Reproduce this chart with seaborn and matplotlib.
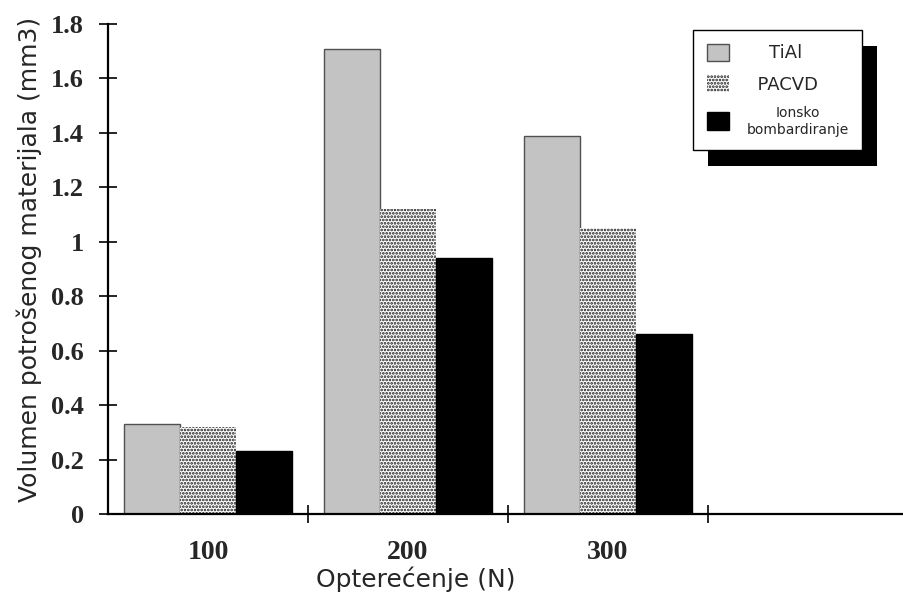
import pandas as pd
import matplotlib
matplotlib.use("Agg")
import matplotlib.pyplot as plt
import seaborn as sns
from matplotlib.patches import Patch, Rectangle
from matplotlib.transforms import IdentityTransform

# data
loads = ["100", "200", "300"]
tial = [0.33, 1.71, 1.39]
pacvd = [0.32, 1.12, 1.05]
ionsko = [0.23, 0.94, 0.66]
series = ["TiAl", "PACVD", "Ionsko\nbombardiranje"]
y_ticks = [0, 0.2, 0.4, 0.6, 0.8, 1.0, 1.2, 1.4, 1.6, 1.8]
y_tick_labels = ["0", "0.2", "0.4", "0.6", "0.8", "1", "1.2", "1.4", "1.6", "1.8"]

df = pd.DataFrame({
    "load": loads * 3,
    "vol": tial + pacvd + ionsko,
    "type": [series[0]] * 3 + [series[1]] * 3 + [series[2]] * 3,
})
order = loads + [""]

sns.set_style("white")
plt.rcParams["font.family"] = ["DejaVu Sans"]
plt.rcParams["hatch.linewidth"] = 1.3

fig = plt.figure(figsize=(9.04, 5.99), dpi=100)
ax = fig.add_axes([108 / 904, 85 / 599, 800 / 904, 490 / 599])

colors = ["#c3c3c3", "#ffffff", "#000000"]
sns.barplot(data=df, x="load", y="vol", hue="type", order=order,
            hue_order=series, palette=colors, saturation=1, width=0.84,
            legend=False, ax=ax)

edge = ["#505050", "none", "#000000"]
for cont, ec in zip(ax.containers, edge):
    for bar in cont:
        bar.set_edgecolor(ec)
        bar.set_linewidth(1.0)
# speckled fill for the PACVD series
for bar in ax.containers[1]:
    bar.set_hatch(".....")
    bar.set_edgecolor("#1a1a1a")
    bar.set_linewidth(0)

ax.set_xlim(-0.5, 3.5)
ax.set_ylim(0, 1.8)
sns.despine(ax=ax)
for s in ["left", "bottom"]:
    ax.spines[s].set_linewidth(1.6)
    ax.spines[s].set_color("black")

serif = {"family": "Liberation Serif", "weight": "bold", "size": 19}
ax.set_yticks(y_ticks)
ax.set_yticklabels(y_tick_labels, fontdict=serif)
ax.tick_params(axis="y", direction="inout", length=13, width=1.4, pad=11, left=True)
ax.set_xticks(range(len(order)))
ax.set_xticklabels(order, fontdict={**serif, "size": 20})
ax.tick_params(axis="x", which="major", length=0, pad=19)
ax.set_xticks([0.5, 1.5, 2.5], minor=True)
ax.tick_params(axis="x", which="minor", direction="inout", length=13, width=1.4, bottom=True)

ax.set_xlabel("Opterećenje (N)", fontsize=18)
ax.set_ylabel("Volumen potrošenog materijala (mm3)", fontsize=18)
ax.xaxis.set_label_coords((416 - 108) / 800, -52 / 490)
ax.yaxis.set_label_coords((42 - 108) / 800, 0.52)

handles = [
    Patch(facecolor=colors[0], edgecolor="#505050", linewidth=1),
    Patch(facecolor="white", edgecolor="#1a1a1a", hatch=".....", linewidth=0),
    Patch(facecolor="black", edgecolor="black"),
]
labels = ["    TiAl", "  PACVD", series[2]]
leg = ax.legend(handles, labels, loc="upper left",
                bbox_to_anchor=(693 / 904, 1 - 30 / 599), bbox_transform=fig.transFigure,
                borderaxespad=0, fancybox=False, framealpha=1, edgecolor="black",
                prop={"size": 13}, handlelength=1.25, handleheight=1.1,
                handletextpad=0.95, labelspacing=0.7, borderpad=0.75)
leg.get_frame().set_linewidth(1.0)
texts = leg.get_texts()
texts[2].set_fontsize(10)
texts[2].set_multialignment("center")

fig.canvas.draw()
bb = leg.get_window_extent()
shadow = Rectangle((bb.x0 + 15, bb.y0 - 16), bb.width, bb.height,
                   transform=IdentityTransform(), facecolor="black",
                   edgecolor="none", zorder=4.9, clip_on=False)
ax.add_artist(shadow)

fig.savefig("out.png", dpi=100)
